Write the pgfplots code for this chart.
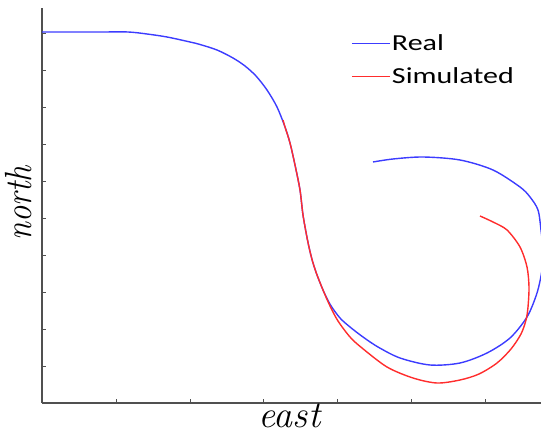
\documentclass[border=0pt]{standalone}
\usepackage{fontspec}
\usepackage{pgfplots}
\pgfplotsset{compat=1.18}
\newfontfamily\legfont[FakeStretch=1.31]{Carlito}
\definecolor{realblue}{RGB}{60,60,255}
\definecolor{simred}{RGB}{255,45,45}
\definecolor{axgray}{RGB}{80,80,80}
\begin{document}
\begin{tikzpicture}
\useasboundingbox (0,0) rectangle (541bp,434bp);
\begin{axis}[
  at={(42bp,31bp)}, anchor=south west,
  scale only axis, width=499bp, height=395bp,
  xmin=0, xmax=499, ymin=0, ymax=395,
  axis x line*=bottom, axis y line*=left,
  axis line style={axgray, line width=1.3bp},
  xtick={0,74,148,221,295,369,443},
  ytick={0,37,74,111,148,185,222,259,296,333,370},
  xticklabels={}, yticklabels={},
  tick align=inside,
  major tick length=4bp,
  tick style={axgray, line width=0.9bp},
  clip=true,
  xlabel={\fontsize{38}{40}\selectfont\itshape east},
  xlabel style={at={(axis description cs:0.496,0)}, anchor=base, yshift=-25bp, inner sep=0pt},
  ylabel={\fontsize{38}{40}\selectfont\itshape\scalebox{0.86}[1]{north}},
  ylabel style={at={(axis description cs:-0.022,0.506)}, anchor=base, inner sep=0pt, rotate=0},
  legend style={draw=none, fill=none, at={(axis description cs:0.619,0.937)}, anchor=north west,
    font=\fontsize{23}{25}\selectfont\legfont, row sep=13bp, inner sep=0pt,
    nodes={inner sep=1.5bp}},
  legend cell align=left,
  legend image code/.code={\draw[#1] (0bp,0bp) -- (38bp,0bp);},
]
\addplot[realblue, line width=1.4bp, smooth, tension=0.5] coordinates {
(0,371)(58,371)(86,371)(105,369)(125,366)(148,361)(158,358.5)(175,353)(191,345)(203,337)(214,327)(225,313)(235,296)(243,276)(248,260)(253,238)(258,213)(261,188)(265.5,163)(269.6,145)(274.3,130)(281,113)(288.5,98)(298,85)(308,76)(321,66)(336,56)(358,45)(388,38)(418,40)(445,50)(468,65)(485,86)(495,110)(500,133)(501,153)(499,173)(496,193)(488,206)(478,216)(451,233)(418,243)(381,246)(351,244)(331,241)
};
\addlegendentry{Real}
\addplot[simred, line width=1.4bp, smooth, tension=0.5] coordinates {
(241,283)(243,276)(248,260)(253,238)(258,213)(261,188)(265.5,163)(269.6,145)(274.3,130)(281,113)(288,97)(296,82)(308,66)(320,55)(345,36)(371,25)(395,20)(418,23)(437,29)(455,40)(469,54)(479,69)(484,83)(486,96)(487,116)(485,136)(478,156)(465,173)(451,181)(438,187)
};
\addlegendentry{Simulated}
\end{axis}
\end{tikzpicture}
\end{document}
